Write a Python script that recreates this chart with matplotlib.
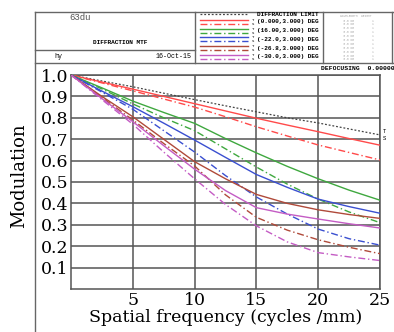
import matplotlib
matplotlib.use("Agg")
import matplotlib.pyplot as plt
import numpy as np

# data (spatial frequency in cycles/mm)
freq = [0, 2.5, 5, 7.5, 10, 12.5, 15, 17.5, 20, 22.5, 25]
diff_limit = [1, .972, .945, .915, .885, .856, .828, .800, .776, .748, .720]
red_t = [1, .967, .934, .900, .866, .832, .798, .766, .735, .703, .672]
red_s = [1, .963, .926, .888, .850, .805, .758, .715, .673, .638, .603]
green_t = [1, .940, .878, .825, .774, .703, .636, .573, .515, .462, .415]
green_s = [1, .935, .865, .800, .740, .655, .570, .490, .420, .360, .310]
blue_t = [1, .925, .852, .775, .696, .615, .535, .475, .420, .385, .354]
blue_s = [1, .920, .840, .740, .640, .530, .430, .350, .280, .235, .205]
brown_t = [1, .900, .805, .700, .595, .515, .442, .400, .370, .348, .330]
brown_s = [1, .895, .790, .680, .575, .440, .335, .275, .230, .195, .165]
mag_t = [1, .890, .782, .670, .560, .460, .380, .350, .327, .305, .285]
mag_s = [1, .885, .770, .640, .515, .395, .295, .220, .170, .150, .133]

fields = ['(0.000,3.000) DEG', '(16.00,3.000) DEG', '(-22.0,3.000) DEG',
          '(-26.8,3.000) DEG', '(-30.0,3.000) DEG']
colors = ['#ff4a4a', '#3fa83f', '#3a4fd0', '#b04a3a', '#c45cc4']
tang = [red_t, green_t, blue_t, brown_t, mag_t]
sag = [red_s, green_s, blue_s, brown_s, mag_s]

yticks = [0.1, 0.2, 0.3, 0.4, 0.5, 0.6, 0.7, 0.8, 0.9, 1.0]
xticks = [5, 10, 15, 20, 25]

W, H = 394, 332
fig = plt.figure(figsize=(W / 100, H / 100), dpi=100)
dash = (0, (5, 2, 1, 2))
serif = 'DejaVu Serif'

# main MTF axes
ax = fig.add_axes([71 / W, (H - 289) / H, 309 / W, 214 / H])
ax.plot(freq, diff_limit, color='#444444', lw=0.9, ls=(0, (1.5, 1.5)), zorder=3)
for c, t, s in zip(colors, tang, sag):
    ax.plot(freq, t, color=c, lw=1.0, zorder=3)
    ax.plot(freq, s, color=c, lw=1.0, ls=dash, zorder=3)
ax.set_xlim(0, 25)
ax.set_ylim(0, 1)
ax.set_xticks(xticks)
ax.set_yticks(yticks)
ax.set_xticklabels([str(v) for v in xticks])
ax.set_yticklabels(['%.1f' % v for v in yticks])
ax.grid(True, color='#555555', lw=1.1)
ax.tick_params(length=0, labelsize=12.5, pad=2)
for lab in ax.get_xticklabels() + ax.get_yticklabels():
    lab.set_family(serif)
for sp in ax.spines.values():
    sp.set_color('#555555')
    sp.set_linewidth(1.1)
ax.set_xlabel('Spatial frequency (cycles /mm)', family=serif, fontsize=12.5, labelpad=0)
ax.set_ylabel('Modulation', family=serif, fontsize=13)
ax.yaxis.set_label_coords(-0.14, 0.53)
ax.text(25.2, 0.735, 'T', fontsize=4, family='Liberation Mono', va='center')
ax.text(25.2, 0.705, 'S', fontsize=4, family='Liberation Mono', va='center')

# header / frame in pixel coordinates
hd = fig.add_axes([0, 0, 1, 1])
hd.set_xlim(0, W)
hd.set_ylim(H, 0)
hd.axis('off')
fc = '#666666'
hd.plot([35, 35], [12, H], color=fc, lw=1.0)
hd.plot([35, 394], [12, 12], color=fc, lw=1.0)
hd.plot([35, 195], [50, 50], color=fc, lw=1.0)
hd.plot([35, 394], [63, 63], color=fc, lw=1.0)
hd.plot([195, 195], [12, 63], color=fc, lw=1.0)
hd.plot([323, 323], [12, 63], color=fc, lw=1.0)
hd.plot([392, 392], [12, 63], color=fc, lw=1.0)

mono = 'Liberation Mono'
hd.text(69, 17, '63du', fontsize=6.5, family=mono, color='#555555', va='center')
hd.text(120, 43, 'DIFFRACTION MTF', fontsize=4.4, family=mono, weight='bold',
        ha='center', va='center')
hd.text(54, 57, 'hy', fontsize=4.8, family=mono, va='center')
hd.text(192, 57, '16-Oct-15', fontsize=4.8, family=mono, ha='right', va='center')

# legend
hd.plot([200, 248], [14, 14], color='#444444', lw=0.9, ls=(0, (1.5, 1.5)))
hd.text(257, 14, 'DIFFRACTION LIMIT', fontsize=4.4, family=mono, weight='bold', va='center')
for i, (c, name) in enumerate(zip(colors, fields)):
    y0 = 20 + i * 8.7
    hd.plot([200, 248], [y0, y0], color=c, lw=1.0)
    hd.plot([200, 248], [y0 + 4, y0 + 4], color=c, lw=1.0, ls=dash)
    hd.text(252, y0, 'T', fontsize=2.8, family=mono, va='center')
    hd.text(252, y0 + 4, 'S', fontsize=2.8, family=mono, va='center')
    hd.text(257, y0 + 2, name, fontsize=4.4, family=mono, weight='bold', va='center')

# faint wavelength table
hd.text(340, 16, 'WAVELENGTH  WEIGHT', fontsize=2.2, family=mono, color='#aaaaaa', va='center')
for i in range(11):
    hd.text(340, 20.5 + i * 3.9, '%5.1f NM' % 0.0, fontsize=2.2, family=mono,
            color='#aaaaaa', va='center')
    hd.text(372, 20.5 + i * 3.9, '1', fontsize=2.2, family=mono, color='#aaaaaa', va='center')

hd.text(321, 69, 'DEFOCUSING  0.00000', fontsize=4.6, family=mono, weight='bold', va='center')

fig.savefig('out.png', dpi=100)
